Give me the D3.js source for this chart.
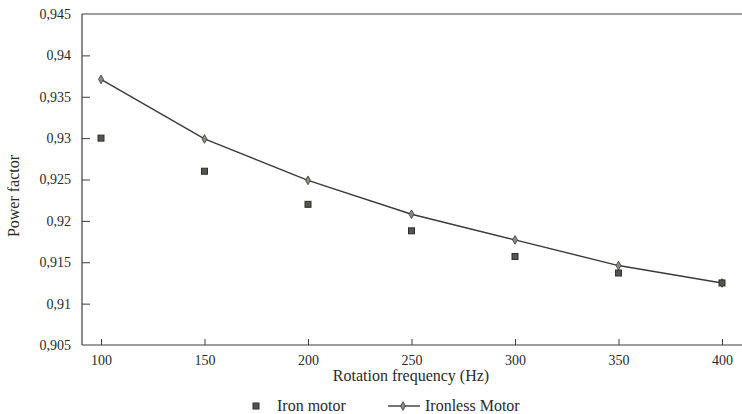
<!DOCTYPE html>
<html>
<head>
<meta charset="utf-8">
<script src="https://cdn.jsdelivr.net/npm/d3@7/dist/d3.min.js"></script>
<style>
  html, body { margin: 0; padding: 0; background: #ffffff; }
  svg { display: block; }
  svg text { font-family: "Liberation Serif", "Times New Roman", "DejaVu Serif", serif !important; fill: #2a2a2a; }
</style>
</head>
<body>
<svg id="chart" width="742" height="414"></svg>
<script>
// ---- data ----
const frequencies = [100, 150, 200, 250, 300, 350, 400];
const ironMotor = [0.930, 0.926, 0.922, 0.9188, 0.9157, 0.9137, 0.9125];
const ironlessMotor = [0.9371, 0.9299, 0.9249, 0.9208, 0.9177, 0.9146, 0.9125];
const yTickValues = [0.905, 0.91, 0.915, 0.92, 0.925, 0.93, 0.935, 0.94, 0.945];
const yTickLabels = ["0,905", "0,91", "0,915", "0,92", "0,925", "0,93", "0,935", "0,94", "0,945"];
const xTickValues = [100, 150, 200, 250, 300, 350, 400];
const seriesNames = ["Iron motor", "Ironless Motor"];
const xTitle = "Rotation frequency (Hz)";
const yTitle = "Power factor";

// ---- layout ----
const FONT = "'Liberation Serif', 'Times New Roman', 'DejaVu Serif', serif";
const svg = d3.select("#chart");
const plotLeft = 82, plotRight = 742, plotTop = 14, plotBottom = 345;
const x = d3.scaleLinear().domain([100, 400]).range([101, 722]);
const y = d3.scaleLinear().domain([0.905, 0.945]).range([plotBottom, plotTop]);
const axisColor = "#3c3c3c";

// frame: left axis, bottom axis, top border
svg.append("line").attr("x1", plotLeft).attr("x2", plotLeft).attr("y1", plotTop).attr("y2", plotBottom)
  .attr("stroke", axisColor).attr("stroke-width", 1.2);
svg.append("line").attr("x1", plotLeft).attr("x2", plotRight).attr("y1", plotBottom).attr("y2", plotBottom)
  .attr("stroke", axisColor).attr("stroke-width", 1.2);
svg.append("line").attr("x1", plotLeft).attr("x2", plotRight).attr("y1", plotTop).attr("y2", plotTop)
  .attr("stroke", axisColor).attr("stroke-width", 1.2);

// y axis (inner ticks)
const yAxis = d3.axisRight(y).tickValues(yTickValues)
  .tickFormat((d, i) => yTickLabels[i]).tickSize(8).tickSizeOuter(0);
const gy = svg.append("g").attr("transform", `translate(${plotLeft},0)`).call(yAxis)
  .attr("font-family", FONT).attr("font-size", 14);
gy.select(".domain").remove();
gy.selectAll(".tick line").attr("stroke", axisColor).attr("stroke-width", 1);
gy.selectAll(".tick text").attr("x", -11).attr("text-anchor", "end")
  .attr("font-family", FONT).style("font-size", "14px").attr("fill", "#2a2a2a");
gy.selectAll(".tick").filter(d => d === 0.905 || d === 0.945).select("line").remove();

// x axis (inner ticks)
const xAxis = d3.axisTop(x).tickValues(xTickValues).tickFormat(d3.format("d")).tickSize(6).tickSizeOuter(0);
const gx = svg.append("g").attr("transform", `translate(0,${plotBottom})`).call(xAxis)
  .attr("font-family", FONT).attr("font-size", 14);
gx.select(".domain").remove();
gx.selectAll(".tick line").attr("stroke", axisColor).attr("stroke-width", 1);
gx.selectAll(".tick text").attr("y", 20).attr("dy", 0)
  .attr("font-family", FONT).style("font-size", "14px").attr("fill", "#2a2a2a");

// axis titles
svg.append("text").attr("x", (plotLeft + plotRight) / 2 - 1).attr("y", 381)
  .attr("text-anchor", "middle").attr("font-family", FONT).style("font-size", "16px").text(xTitle);
svg.append("text").attr("transform", `translate(19,196) rotate(-90)`)
  .attr("text-anchor", "middle").attr("font-family", FONT).style("font-size", "16px").text(yTitle);

// ironless line
const lineGen = d3.line().x((d, i) => x(frequencies[i])).y(d => y(d));
svg.append("path").datum(ironlessMotor).attr("d", lineGen)
  .attr("fill", "none").attr("stroke", "#3a3a3a").attr("stroke-width", 1.4);

// diamond markers
const diamond = d3.symbol().type(d3.symbolDiamond).size(22);
svg.selectAll(".dia").data(ironlessMotor).enter().append("path")
  .attr("class", "dia")
  .attr("transform", (d, i) => `translate(${x(frequencies[i])},${y(d)})`)
  .attr("d", diamond).attr("fill", "#8a8a80").attr("stroke", "#3a3a3a").attr("stroke-width", 0.8);

// square markers
const sq = 6;
svg.selectAll(".sq").data(ironMotor).enter().append("rect")
  .attr("class", "sq")
  .attr("x", (d, i) => x(frequencies[i]) - sq / 2)
  .attr("y", d => y(d) - sq / 2)
  .attr("width", sq).attr("height", sq)
  .attr("fill", "#55554f").attr("stroke", "#2e2e2e").attr("stroke-width", 1);

// legend
const ly = 406;
svg.append("rect").attr("x", 256 - sq / 2).attr("y", ly - sq / 2).attr("width", sq).attr("height", sq)
  .attr("fill", "#55554f").attr("stroke", "#2e2e2e").attr("stroke-width", 1);
svg.append("text").attr("x", 277).attr("y", ly + 5).attr("font-family", FONT).style("font-size", "16px").text(seriesNames[0]);
svg.append("line").attr("x1", 388).attr("x2", 420).attr("y1", ly).attr("y2", ly)
  .attr("stroke", "#3a3a3a").attr("stroke-width", 1.4);
svg.append("path").attr("transform", `translate(403,${ly})`).attr("d", diamond)
  .attr("fill", "#8a8a80").attr("stroke", "#3a3a3a").attr("stroke-width", 0.8);
svg.append("text").attr("x", 425).attr("y", ly + 5).attr("font-family", FONT).style("font-size", "16px").text(seriesNames[1]);
</script>
</body>
</html>
